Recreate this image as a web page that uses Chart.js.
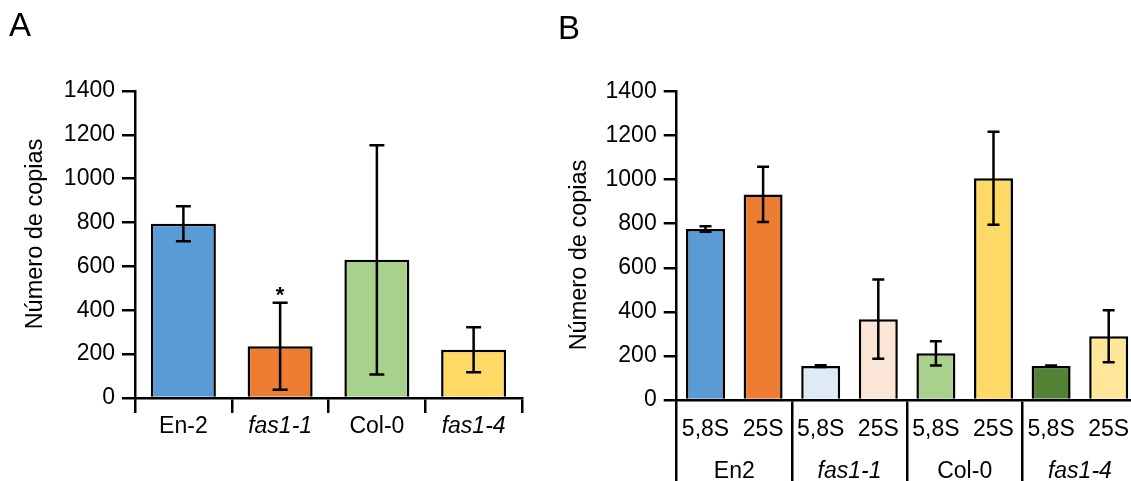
<!DOCTYPE html>
<html>
<head>
<meta charset="utf-8">
<script src="https://cdn.jsdelivr.net/npm/chart.js@4.4.0/dist/chart.umd.min.js"></script>
<style>
  html, body { margin: 0; padding: 0; background: #fff; overflow: hidden; }
  body { width: 1131px; height: 481px; position: relative; }
  canvas { position: absolute; top: 0; }
  #chartA { left: 0; }
  #chartB { left: 550px; }
</style>
</head>
<body>
<canvas id="chartA" width="545" height="481"></canvas>
<canvas id="chartB" width="600" height="481"></canvas>
<script>
// Panel A: copies per line
const LINES_A = ['En-2', 'fas1-1', 'Col-0', 'fas1-4'];
const COPIES_A = [795, 236, 630, 220];
const ERR_A = [80, 198, 523, 103];
const SIG_A = ['', '*', '', ''];
const COLORS_A = ['#5B9BD5', '#ED7D31', '#A9D18E', '#FFD966'];

// Panel B: 5,8S and 25S per line
const RRNA_B = ['5,8S', '25S', '5,8S', '25S', '5,8S', '25S', '5,8S', '25S'];
const LINES_B = ['En2', 'fas1-1', 'Col-0', 'fas1-4'];
const COPIES_B = [776, 933, 154, 367, 212, 1006, 154, 289];
const ERR_B = [13, 125, 4, 180, 55, 211, 3, 118];
const COLORS_B = ['#5B9BD5', '#ED7D31', '#DEEBF7', '#FBE5D6', '#A9D18E', '#FFD966', '#548235', '#FFE699'];

const ITALIC = ['fas1-1', 'fas1-4'];
const Y_TITLE = 'Número de copias';
const FONT = "'Liberation Sans', Arial, sans-serif";

Chart.defaults.font.family = FONT;
Chart.defaults.font.size = 23;
Chart.defaults.color = '#000';

// error bars + significance marks, drawn from the y scale
const errorBars = {
    id: 'errorBars',
    afterDatasetsDraw(chart, args, opts) {
        const ctx = chart.ctx;
        const y = chart.scales.y;
        const values = chart.data.datasets[0].data;
        const half = opts.cap / 2;
        ctx.save();
        ctx.strokeStyle = '#000';
        ctx.lineWidth = 2.5;
        chart.getDatasetMeta(0).data.forEach((bar, i) => {
            const top = y.getPixelForValue(values[i] + opts.errors[i]);
            const bot = y.getPixelForValue(values[i] - opts.errors[i]);
            ctx.beginPath();
            ctx.moveTo(bar.x, top); ctx.lineTo(bar.x, bot);
            ctx.moveTo(bar.x - half, top); ctx.lineTo(bar.x + half, top);
            ctx.moveTo(bar.x - half, bot); ctx.lineTo(bar.x + half, bot);
            ctx.stroke();
            if (opts.marks && opts.marks[i]) {
                ctx.fillStyle = '#000';
                ctx.font = 'bold 22px ' + FONT;
                ctx.textAlign = 'center';
                ctx.textBaseline = 'alphabetic';
                ctx.fillText(opts.marks[i], bar.x, top - 1);
            }
        });
        ctx.restore();
    }
};

// rotated y-axis title
const sideTitle = {
    id: 'sideTitle',
    afterDraw(chart, args, opts) {
        const ctx = chart.ctx;
        ctx.save();
        ctx.translate(opts.x, opts.y);
        ctx.rotate(-Math.PI / 2);
        ctx.font = '23.5px ' + FONT;
        ctx.fillStyle = '#000';
        ctx.textAlign = 'center';
        ctx.textBaseline = 'alphabetic';
        ctx.fillText(opts.text, 0, 0);
        ctx.restore();
    }
};

function yScale(width) {
    return {
        min: 0,
        max: 1400,
        ticks: { stepSize: 200, padding: 7, callback: v => String(v) },
        grid: { drawOnChartArea: false, tickLength: 13, color: '#000', lineWidth: 2.5 },
        border: { color: '#000', width: 2.5 },
        afterFit: s => { s.width = width; }
    };
}

function labelFont(labels) {
    return c => ({ size: 23, style: ITALIC.includes(labels[c.index]) ? 'italic' : 'normal' });
}

new Chart(document.getElementById('chartA'), {
    type: 'bar',
    data: {
        labels: LINES_A,
        datasets: [{
            data: COPIES_A,
            backgroundColor: COLORS_A,
            borderColor: '#000',
            borderWidth: 2.5,
            barPercentage: 0.672,
            categoryPercentage: 1
        }]
    },
    options: {
        responsive: false,
        animation: false,
        layout: { padding: { left: 9, right: 23, top: 0, bottom: 0 } },
        scales: {
            x: {
                offset: true,
                grid: { offset: true, drawOnChartArea: false, tickLength: 15, color: '#000', lineWidth: 2.5 },
                border: { color: '#000', width: 2.5 },
                ticks: { padding: 0, autoSkip: false, maxRotation: 0, font: labelFont(LINES_A) },
                afterFit: s => { s.height = 83; }
            },
            y: yScale(126)
        },
        plugins: {
            legend: { display: false },
            tooltip: { enabled: false },
            title: {
                display: true, text: 'A', align: 'start', color: '#000',
                font: { size: 33, weight: 'normal' },
                padding: { top: 7, bottom: 44.4 }
            },
            errorBars: { errors: ERR_A, marks: SIG_A, cap: 15 },
            sideTitle: { text: Y_TITLE, x: 42, y: 234 }
        }
    },
    plugins: [errorBars, sideTitle]
});

// only every second boundary of the rRNA axis separates two lines
const groupLine = c => (c.index === undefined || c.index % 2 === 0) ? '#000' : 'rgba(0,0,0,0)';

new Chart(document.getElementById('chartB'), {
    type: 'bar',
    data: {
        labels: RRNA_B,
        datasets: [{
            data: COPIES_B,
            backgroundColor: COLORS_B,
            borderColor: '#000',
            borderWidth: 2.5,
            barPercentage: 0.677,
            categoryPercentage: 1
        }]
    },
    options: {
        responsive: false,
        animation: false,
        layout: { padding: { left: 8, right: 12.5, top: 0, bottom: 0 } },
        scales: {
            x: {
                offset: true,
                weight: 0,
                grid: { offset: true, drawOnChartArea: false, tickLength: 50, color: groupLine, lineWidth: 2.5 },
                border: { color: '#000', width: 2.5 },
                ticks: { padding: -34.3, autoSkip: false, maxRotation: 0 },
                afterFit: s => { s.height = 50; }
            },
            x2: {
                type: 'category',
                labels: LINES_B,
                position: 'bottom',
                offset: true,
                weight: 1,
                grid: { offset: true, drawOnChartArea: false, tickLength: 31, color: '#000', lineWidth: 2.5 },
                border: { display: false },
                ticks: { padding: -23.3, autoSkip: false, maxRotation: 0, font: labelFont(LINES_B) },
                afterFit: s => { s.height = 31; }
            },
            y: yScale(118.7)
        },
        plugins: {
            legend: { display: false },
            tooltip: { enabled: false },
            title: {
                display: true, text: 'B', align: 'start', color: '#000',
                font: { size: 33, weight: 'normal' },
                padding: { top: 10, bottom: 41.9 }
            },
            errorBars: { errors: ERR_B, cap: 12 },
            sideTitle: { text: Y_TITLE, x: 36, y: 255 }
        }
    },
    plugins: [errorBars, sideTitle]
});
</script>
</body>
</html>
